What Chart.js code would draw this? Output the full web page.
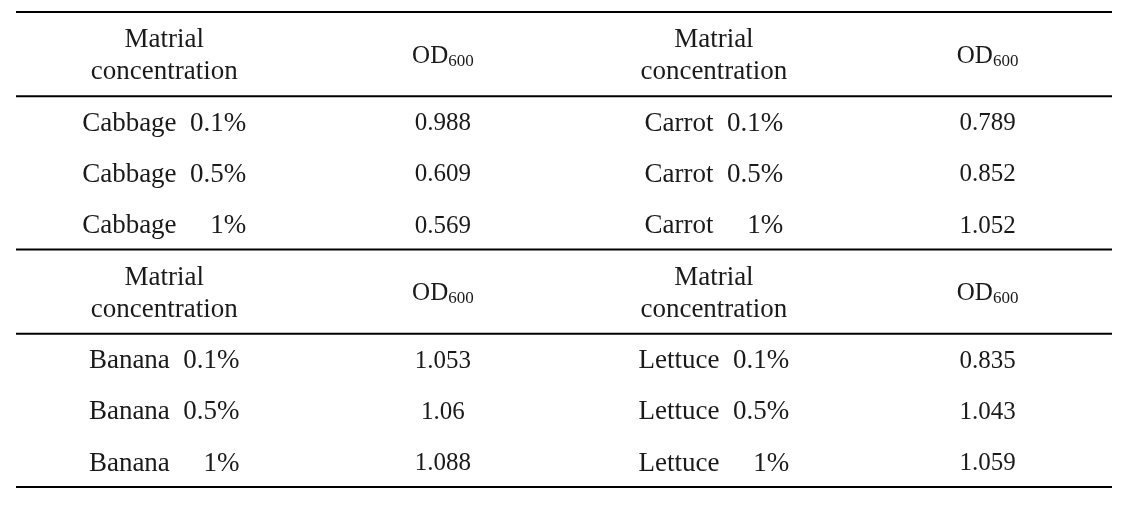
<!DOCTYPE html>
<html>
<head>
<meta charset="utf-8">
<script src="https://cdn.jsdelivr.net/npm/chart.js@4.4.1/dist/chart.umd.min.js"></script>
<style>
  html, body { margin: 0; padding: 0; background: #ffffff; }
  #wrap { width: 1131px; height: 508px; }
</style>
</head>
<body>
<div id="wrap"><canvas id="c" width="1131" height="508"></canvas></div>
<script>
// ---- Data ----
const materials = ['Cabbage', 'Carrot', 'Banana', 'Lettuce'];
const concentrations = ['0.1%', '0.5%', '1%'];
const od600Cabbage = [0.988, 0.609, 0.569];
const od600Carrot  = [0.789, 0.852, 1.052];
const od600Banana  = [1.053, 1.06, 1.088];
const od600Lettuce = [0.835, 1.043, 1.059];
const headerMaterial = ['Matrial', 'concentration'];
const headerValue = 'OD';
const headerValueSub = '600';

// ---- Table geometry in scale units (x: 0..4 across the table, y: rows) ----
const headerH = 1.65;           // header row height in data-row units
const blockH = headerH + 3;     // one block = header + 3 data rows
const colCenters = [0.541, 1.558, 2.547, 3.546];
const ruleYs = [0, headerH, blockH, blockH + headerH, 2 * blockH];

const blocks = [
  [{ name: materials[0], vals: od600Cabbage }, { name: materials[1], vals: od600Carrot }],
  [{ name: materials[2], vals: od600Banana },  { name: materials[3], vals: od600Lettuce }]
];

function labelFor(name, conc) {
  return conc === '1%' ? name + '     ' + conc : name + '  ' + conc;
}

// Build cell points (invisible) with their text
const cellPoints = [];
blocks.forEach((blk, b) => {
  const y0 = b * blockH;
  blk.forEach((side, s) => {
    cellPoints.push({ x: colCenters[2 * s], y: y0 + headerH / 2, kind: 'hdrMat' });
    cellPoints.push({ x: colCenters[2 * s + 1], y: y0 + headerH / 2, kind: 'hdrOD' });
    concentrations.forEach((c, r) => {
      const yy = y0 + headerH + r + 0.5;
      cellPoints.push({ x: colCenters[2 * s], y: yy, kind: 'label', text: labelFor(side.name, c) });
      cellPoints.push({ x: colCenters[2 * s + 1], y: yy, kind: 'value', text: String(side.vals[r]) });
    });
  });
});

const ruleDatasets = ruleYs.map(y => ({
  type: 'line',
  data: [{ x: 0, y: y }, { x: 4, y: y }],
  borderColor: '#000000',
  borderWidth: 1.8,
  pointRadius: 0,
  fill: false,
  clip: false
}));

const FONT = '"Liberation Serif", "Times New Roman", serif';

const textPlugin = {
  id: 'cellText',
  afterDatasetsDraw(chart) {
    const ctx = chart.ctx;
    const meta = chart.getDatasetMeta(chart.data.datasets.length - 1);
    ctx.save();
    ctx.fillStyle = '#1a1a1a';
    ctx.textAlign = 'center';
    ctx.textBaseline = 'middle';
    meta.data.forEach((el, i) => {
      const p = cellPoints[i];
      const x = el.x, y = el.y;
      if (p.kind === 'hdrMat') {
        ctx.font = '27px ' + FONT;
        ctx.fillText(headerMaterial[0], x, y - 14);
        ctx.fillText(headerMaterial[1], x, y + 18);
      } else if (p.kind === 'hdrOD') {
        ctx.font = '25px ' + FONT;
        const w1 = ctx.measureText(headerValue).width;
        ctx.font = '17px ' + FONT;
        const w2 = ctx.measureText(headerValueSub).width;
        const start = x - (w1 + w2) / 2;
        ctx.textAlign = 'left';
        ctx.font = '25px ' + FONT;
        ctx.fillText(headerValue, start, y + 2);
        ctx.font = '17px ' + FONT;
        ctx.fillText(headerValueSub, start + w1, y + 7);
        ctx.textAlign = 'center';
      } else if (p.kind === 'label') {
        ctx.font = '27px ' + FONT;
        ctx.fillText(p.text, x, y + 2);
      } else {
        ctx.font = '25px ' + FONT;
        ctx.fillText(p.text, x, y + 2);
      }
    });
    ctx.restore();
  }
};

new Chart(document.getElementById('c'), {
  type: 'scatter',
  data: {
    datasets: [
      ...ruleDatasets,
      { type: 'scatter', data: cellPoints.map(p => ({ x: p.x, y: p.y })), pointRadius: 0, pointHoverRadius: 0 }
    ]
  },
  options: {
    responsive: false,
    animation: false,
    events: [],
    layout: { padding: { left: 16, right: 19, top: 12, bottom: 21 } },
    plugins: { legend: { display: false }, tooltip: { enabled: false } },
    scales: {
      x: { type: 'linear', min: 0, max: 4, display: false },
      y: { type: 'linear', min: 0, max: 2 * blockH, reverse: true, display: false }
    }
  },
  plugins: [textPlugin]
});
</script>
</body>
</html>
